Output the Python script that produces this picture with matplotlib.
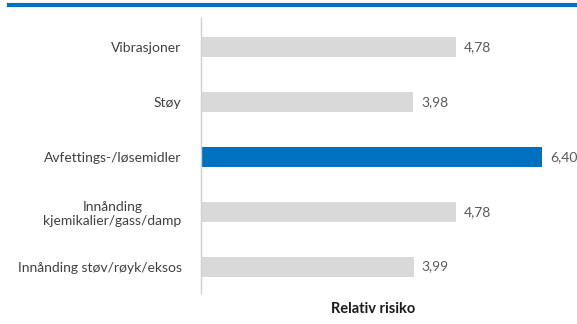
import matplotlib.pyplot as plt
from matplotlib.lines import Line2D

categories = [
    "Vibrasjoner",
    "Støy",
    "Avfettings-/løsemidler",
    "Innånding\nkjemikalier/gass/damp",
    "Innånding støv/røyk/eksos",
]
values = [4.78, 3.98, 6.40, 4.78, 3.99]
highlight = "Avfettings-/løsemidler"
xlabel = "Relativ risiko"

GREY = "#d9d9d9"
BLUE = "#0070c0"
TEXT = "#404040"

plt.rcParams["font.family"] = ["Lato", "DejaVu Sans"]

fig = plt.figure(figsize=(5.77, 3.24), dpi=100)
ax = fig.add_axes([201 / 577, 31 / 324, 364 / 577, 275 / 324])

ypos = list(range(len(categories)))
colors = [BLUE if c == highlight else GREY for c in categories]
bars = ax.barh(ypos, values, height=0.36, color=colors, zorder=2)

for bar, v in zip(bars, values):
    ax.text(bar.get_width() + 0.15, bar.get_y() + bar.get_height() / 2,
            f"{v:.2f}".replace(".", ","), va="center", ha="left",
            fontsize=10, color="#595959")

ax.set_yticks(ypos)
ax.set_yticklabels(categories, fontsize=10, color=TEXT, multialignment="center")
ax.tick_params(axis="y", length=0, pad=14)
ax.set_xticks([])
ax.set_xlim(0, 6.83)
ax.set_ylim(4.48, -0.53)

for side in ("top", "right", "bottom"):
    ax.spines[side].set_visible(False)
ax.spines["left"].set_color("#d0d0d0")
ax.spines["left"].set_linewidth(1.0)

fig.text(373 / 577, 1 - 309 / 324, xlabel, ha="center", va="center",
         fontsize=10.5, fontweight="bold", color="#1a1a1a")

# blue rule across the top
fig.add_artist(Line2D([9 / 577, 1.0], [1 - 5 / 324] * 2, color=BLUE,
                      linewidth=3, transform=fig.transFigure))

fig.savefig("out.png", dpi=100, facecolor="white")
